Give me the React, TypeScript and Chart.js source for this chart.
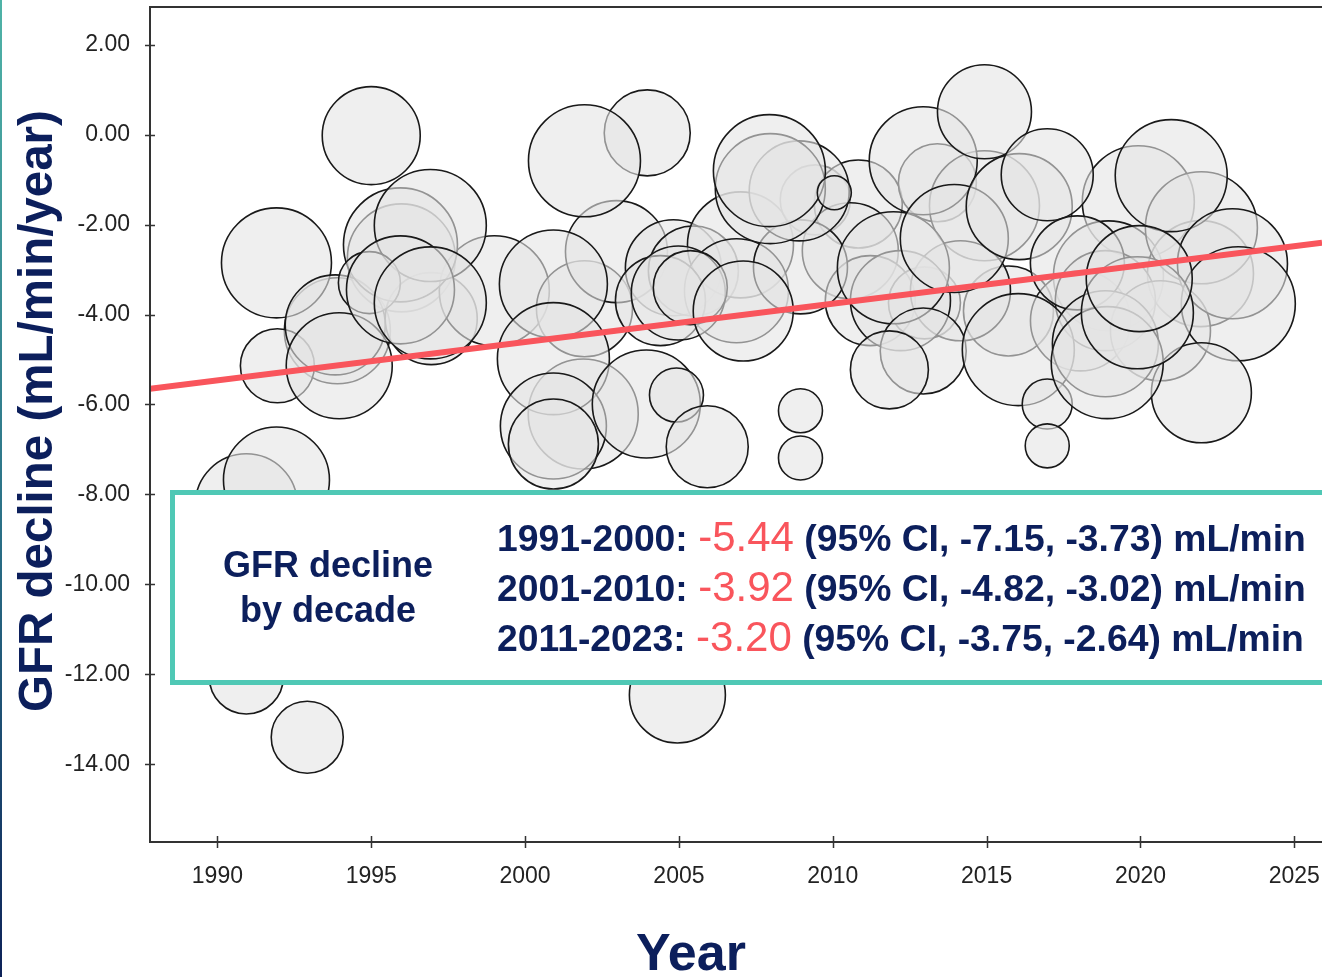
import React, { useEffect, useRef } from 'react';
import { Chart, registerables } from 'chart.js';

Chart.register(...registerables);

// ---- Data -----------------------------------------------------------------
// Individual studies: publication year, mean GFR decline (mL/min/year), bubble radius (study weight)
// listed in drawing order (underlying bubbles first)
const studyYears = [
  1993.90, 1995.98, 1996.95, 1999.00, 2001.93, 2002.97, 2001.89, 2004.82, 2005.47, 2007.00,
  2006.87, 2004.40, 2009.43, 2010.83, 2010.57, 2011.22, 2013.40, 2014.93, 2012.98, 2015.71,
  2014.15, 2012.20, 2019.93, 2018.96, 2021.95, 2018.05, 2018.86, 2020.65,
  1990.94, 1991.92, 1990.94, 1992.92, 1991.92, 1991.95, 1993.83, 1993.96, 1995.00, 1995.95,
  1996.92, 1994.94, 1995.95, 1996.92, 2000.92, 2003.97, 2001.93, 2000.92, 2000.92, 2000.92,
  2003.94, 2004.92, 2005.92, 2008.95, 2008.95, 2004.98, 2005.37, 2008.95, 2007.09, 2008.91,
  2007.97, 2007.94, 2010.05, 2011.97, 2012.94, 2013.95, 2012.94, 2011.84, 2016.03, 2016.97,
  2016.97, 2014.93, 2016.06, 2016.97, 2017.95, 2021.98, 2021.00, 2022.99, 2023.18, 2021.98,
  2018.86, 2018.92, 2019.90, 2019.96, 2004.95,
];
const studyDecline = [
  -4.36, -2.74, -4.09, -3.47, -3.87, -2.60, -6.21, -2.96, -3.03, -2.45,
  -3.47, -3.69, -1.45, -1.54, -2.58, -3.69, -1.07, -1.58, -3.74, -3.92,
  -3.47, -3.69, -1.49, -3.14, -3.09, -4.14, -3.69, -4.36,
  -8.23, -7.68, -12.06, -13.40, -2.85, -5.14, -4.23, -5.14, -0.02, -2.45,
  -2.02, -3.29, -3.45, -3.74, -3.32, 0.04, -0.58, -4.98, -6.48, -6.88,
  -5.99, -5.79, -6.94, -6.14, -7.19, -3.52, -3.40, -2.94, -3.92, -1.25,
  -1.20, -0.80, -1.29, -2.96, -0.58, -2.31, -4.81, -5.23, -4.78, -5.99,
  -6.92, 0.51, -1.60, -0.89, -2.85, -2.07, -0.91, -2.87, -3.76, -5.74,
  -4.65, -5.07, -3.96, -3.20, -12.46,
];
const studyWeight = [
  53, 54, 46, 55, 48, 51, 55, 48, 45, 53,
  52, 45, 35, 44, 48, 45, 39, 55, 36, 45,
  50, 50, 56, 55, 53, 50, 50, 50,
  51, 53, 37, 36, 55, 37, 50, 53, 49, 57,
  56, 31, 54, 56, 54, 43, 56, 56, 53, 45,
  54, 27, 41, 22, 22, 47, 37, 47, 50, 50,
  55, 56, 17, 56, 54, 54, 43, 39, 56, 25,
  22, 47, 53, 46, 47, 56, 56, 55, 57, 50,
  53, 56, 56, 53, 48,
];

// Meta-regression trend line
const trendYears = [1987.81, 2025.9];
const trendValues = [-5.65, -2.4];

// Axis ticks
const xTicks = [1990, 1995, 2000, 2005, 2010, 2015, 2020, 2025];
const yTicks = [2, 0, -2, -4, -6, -8, -10, -12, -14];

// Decade summary
const decadeLabels = ['1991-2000', '2001-2010', '2011-2023'];
const decadeSlopes = [-5.44, -3.92, -3.2];
const decadeCiLow = [-7.15, -4.82, -3.75];
const decadeCiHigh = [-3.73, -3.02, -2.64];

// ---- Styling --------------------------------------------------------------
const FONT = "'Liberation Sans', Arial, Helvetica, sans-serif";
const NAVY = '#0c1f5c';
const RED = '#f9555c';
const TEAL = '#4fc8b5';
const AXIS = '#333333';

const overlayPlugin = {
  id: 'overlay',
  afterDraw(chart: any) {
    const { ctx, chartArea: a, scales } = chart;
    const xs = scales.x;
    const ys = scales.y;
    ctx.save();

    // frame (top, left, bottom)
    ctx.strokeStyle = AXIS;
    ctx.lineWidth = 2;
    ctx.beginPath();
    ctx.moveTo(a.right + 5, a.top);
    ctx.lineTo(a.left, a.top);
    ctx.lineTo(a.left, a.bottom);
    ctx.lineTo(a.right + 5, a.bottom);
    ctx.stroke();

    // tick marks crossing the axes
    ctx.lineWidth = 1.5;
    ctx.beginPath();
    yTicks.forEach((v) => {
      const py = Math.round(ys.getPixelForValue(v)) + 0.5;
      ctx.moveTo(a.left - 5, py);
      ctx.lineTo(a.left + 5, py);
    });
    xTicks.forEach((v) => {
      const px = Math.round(xs.getPixelForValue(v)) + 0.5;
      ctx.moveTo(px, a.bottom - 6);
      ctx.lineTo(px, a.bottom + 6);
    });
    ctx.stroke();

    // summary box
    ctx.fillStyle = '#ffffff';
    ctx.fillRect(172, 492, 1160, 191);
    ctx.strokeStyle = TEAL;
    ctx.lineWidth = 5;
    ctx.strokeRect(172.5, 492.5, 1160, 190);

    ctx.fillStyle = NAVY;
    ctx.textBaseline = 'alphabetic';
    ctx.textAlign = 'center';
    ctx.font = `bold 36px ${FONT}`;
    ctx.fillText('GFR decline', 328, 577);
    ctx.fillText('by decade', 328, 622);

    ctx.textAlign = 'left';
    decadeLabels.forEach((lab, i) => {
      const base = 551 + i * 50;
      let cx = 497;
      const p1 = `${lab}: `;
      ctx.font = `bold 37.3px ${FONT}`;
      ctx.fillStyle = NAVY;
      ctx.fillText(p1, cx, base);
      cx += ctx.measureText(p1).width;
      const p2 = decadeSlopes[i].toFixed(2);
      ctx.font = `42px ${FONT}`;
      ctx.fillStyle = RED;
      ctx.fillText(p2, cx, base);
      cx += ctx.measureText(p2).width;
      const p3 = ` (95% CI, ${decadeCiLow[i].toFixed(2)}, ${decadeCiHigh[i].toFixed(2)}) mL/min`;
      ctx.font = `bold 37.3px ${FONT}`;
      ctx.fillStyle = NAVY;
      ctx.fillText(p3, cx, base);
    });

    // axis titles
    ctx.fillStyle = NAVY;
    ctx.textAlign = 'center';
    ctx.font = `bold 52px ${FONT}`;
    ctx.fillText('Year', 691, 970);

    ctx.save();
    ctx.translate(52, 411);
    ctx.rotate(-Math.PI / 2);
    ctx.font = `bold 47.5px ${FONT}`;
    ctx.fillText('GFR decline (mL/min/year)', 0, 0);
    ctx.restore();

    // slide edge
    const g = ctx.createLinearGradient(0, 0, 0, 977);
    g.addColorStop(0, '#4fb3a7');
    g.addColorStop(0.55, '#2a6f86');
    g.addColorStop(1, '#0d2258');
    ctx.fillStyle = g;
    ctx.fillRect(0, 0, 2, 977);

    ctx.restore();
  },
};

export default function App() {
  const ref = useRef<HTMLCanvasElement>(null);

  useEffect(() => {
    if (!ref.current) return;
    const bubbles = studyYears.map((yr, i) => ({ x: yr, y: studyDecline[i], r: studyWeight[i] }));
    const trend = trendYears.map((yr, i) => ({ x: yr, y: trendValues[i] }));
    const tickFont = { family: FONT, size: 23 };

    const chart = new Chart(ref.current, {
      type: 'bubble',
      data: {
        datasets: [
          {
            type: 'line',
            label: 'Trend',
            data: trend,
            borderColor: RED,
            borderWidth: 6,
            pointRadius: 0,
            fill: false,
            order: 0,
          } as any,
          {
            type: 'bubble',
            label: 'Studies',
            data: bubbles,
            backgroundColor: 'rgba(228,228,228,0.6)',
            borderColor: 'rgba(25,25,25,1)',
            borderWidth: 1.6,
            order: 1,
          },
        ],
      },
      options: {
        responsive: false,
        devicePixelRatio: 1,
        animation: false,
        events: [],
        layout: { autoPadding: false, padding: { top: 7, left: 0, right: 0, bottom: 0 } },
        plugins: {
          legend: { display: false },
          tooltip: { enabled: false },
        },
        scales: {
          x: {
            type: 'linear',
            min: 1987.81,
            max: 2025.9,
            grid: { display: false, drawTicks: false },
            border: { display: false },
            ticks: {
              padding: 21,
              font: tickFont,
              color: '#222',
              maxRotation: 0,
              autoSkip: false,
              callback: (v: any) => String(v),
            },
            afterBuildTicks: (s: any) => {
              s.ticks = xTicks.map((v) => ({ value: v }));
            },
            afterFit: (s: any) => {
              s.height = 135;
              s.paddingLeft = 0;
              s.paddingRight = 0;
              s.paddingTop = 0;
              s.paddingBottom = 0;
            },
          },
          y: {
            type: 'linear',
            min: -15.73,
            max: 2.84,
            grid: { display: false, drawTicks: false },
            border: { display: false },
            ticks: {
              padding: 20,
              font: tickFont,
              color: '#222',
              autoSkip: false,
              callback: (v: any) => Number(v).toFixed(2),
            },
            afterBuildTicks: (s: any) => {
              s.ticks = yTicks.map((v) => ({ value: v }));
            },
            afterFit: (s: any) => {
              s.width = 150;
              s.paddingLeft = 0;
              s.paddingRight = 0;
              s.paddingTop = 0;
              s.paddingBottom = 0;
            },
          },
        },
      },
      plugins: [overlayPlugin],
    });
    return () => chart.destroy();
  }, []);

  return (
    <div style={{ position: 'absolute', left: 0, top: 0, width: 1322, height: 977, background: '#fff' }}>
      <canvas ref={ref} width={1322} height={977} style={{ display: 'block', width: 1322, height: 977 }} />
    </div>
  );
}
